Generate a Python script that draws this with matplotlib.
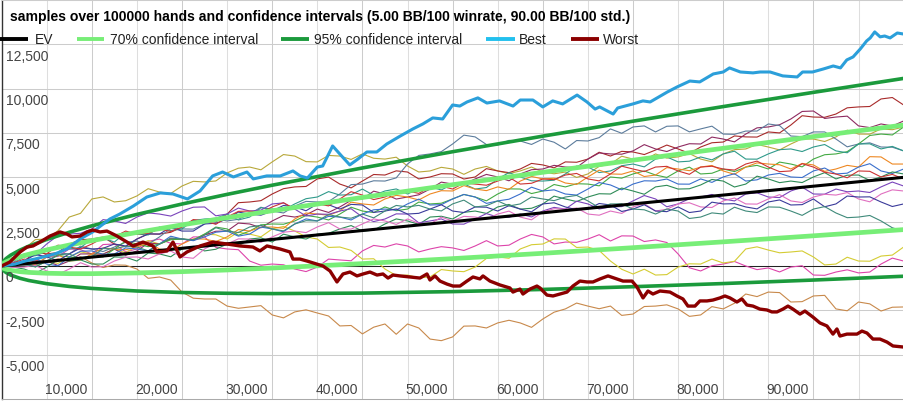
import matplotlib
matplotlib.use("Agg")
import matplotlib.pyplot as plt
from matplotlib.lines import Line2D

plt.rcParams['font.family'] = ['Liberation Sans', 'DejaVu Sans']

TITLE = "samples over 100000 hands and confidence intervals (5.00 BB/100 winrate, 90.00 BB/100 std.)"
LEGEND_LABELS = ["EV", "70% confidence interval", "95% confidence interval", "Best", "Worst"]
X_TICKS = [10000, 20000, 30000, 40000, 50000, 60000, 70000, 80000, 90000]
X_TICK_LABELS = ["10,000", "20,000", "30,000", "40,000", "50,000", "60,000", "70,000", "80,000", "90,000"]
Y_TICKS = [-5000, -2500, 0, 2500, 5000, 7500, 10000, 12500]
Y_TICK_LABELS = ["-5,000", "-2,500", "0", "2,500", "5,000", "7,500", "10,000", "12,500"]

# smooth series (EV and confidence bands)
CI_HANDS = [0, 100, 250, 500, 1000, 2000, 3000, 5000, 7500, 10000, 15000, 20000, 25000, 30000,
            40000, 50000, 60000, 70000, 80000, 90000, 100000]
EV = [0, 5, 12, 25, 50, 100, 150, 250, 375, 500, 750, 1000, 1250, 1500, 2000, 2500, 3000, 3500, 4000, 4500, 5000]
CI70_UP = [0, 98, 160, 233, 345, 516, 661, 909, 1182, 1432, 1892, 2319, 2724, 3115, 3865, 4584, 5284, 5967, 6638, 7297, 7948]
CI70_LO = [0, -88, -135, -183, -245, -316, -361, -409, -432, -432, -392, -319, -224, -115, 135, 416, 716, 1033, 1362, 1703, 2052]
CI95_UP = [0, 181, 292, 419, 609, 888, 1116, 1497, 1902, 2264, 2910, 3495, 4039, 4556, 5528, 6444, 7322, 8167, 8990, 9792, 10578]
CI95_LO = [0, -171, -267, -369, -509, -688, -816, -997, -1152, -1264, -1410, -1495, -1539, -1556, -1528, -1444, -1322, -1167, -990, -792, -578]

BEST_HANDS = [0, 1500, 2600, 3700, 4600, 5900, 7250, 8700, 10100, 12000, 13100, 14600, 16100, 17600, 19000, 20600,
              22000, 23400, 24500, 25700, 27200, 27900, 29400, 30900, 32300, 33100, 33900, 35000, 35600, 36700,
              37700, 38600, 39500, 40500, 41600, 42700, 44200, 45600, 46700, 47800, 48900, 50000, 50800, 51600,
              52800, 53800, 55200, 56700, 57500, 58900, 60000, 61100, 62200, 63800, 64900, 65800, 66300, 67800,
              68300, 70000, 71100, 71900, 73800, 74900, 76300, 77400, 78900, 80000, 80700, 81900, 83300, 84100,
              85200, 86600, 88200, 88800, 89900, 91100, 92200, 93000, 93700, 94400, 95200, 95900, 96300, 96800,
              97400, 97900, 98500, 99300, 100000]
BEST = [0, 110, 280, 395, 510, 680, 960, 1520, 1920, 2650, 2930, 3380, 3890, 4120, 4060, 3780,
        4230, 5080, 5300, 5020, 5300, 4910, 5080, 5080, 5360, 5080, 4960, 5580, 5640, 6770,
        6200, 5700, 6030, 6430, 6430, 6880, 7330, 7730, 8010, 8350, 8290, 9080, 9020, 9250,
        9480, 9190, 9310, 9020, 9360, 9360, 8970, 9310, 9140, 9640, 9250, 8850, 8970, 8570,
        8910, 9140, 9310, 9250, 9810, 10100, 10430, 10380, 10830, 10940, 11170, 10940, 10890, 10940,
        10940, 10720, 10660, 10940, 10940, 11110, 11280, 11170, 11620, 11790, 12240, 12690, 12860, 13200,
        12920, 12970, 12860, 13140, 13080]

WORST_HANDS = [0, 930, 2040, 2820, 3480, 4260, 5370, 6470, 7250, 7800, 8690, 9470, 10130, 10910, 11680, 12790,
               13900, 14570, 15680, 16780, 17230, 18330, 19000, 19780, 20550, 22000, 23440, 24990, 26430, 27870,
               28640, 29420, 30860, 31970, 32300, 33080, 33860, 34960, 35630, 36410, 37180, 37850, 38620, 39400,
               40070, 40840, 41620, 42280, 42840, 43390, 44170, 45270, 46380, 47160, 47490, 48050, 48600, 49380,
               50040, 50820, 51590, 52260, 53030, 53370, 54140, 55250, 56360, 56690, 57470, 57800, 58580, 59350,
               59690, 60460, 61130, 61900, 62680, 63340, 64120, 64900, 65560, 66340, 67230, 68220, 68890, 69890,
               70440, 71110, 71660, 72210, 72990, 74100, 74870, 75540, 76090, 76870, 77420, 78200, 78860, 79640,
               80190, 80750, 81520, 82080, 82630, 83300, 84070, 84850, 85400, 85960, 86620, 87180, 87730, 88510,
               89060, 89950, 90720, 91500, 92170, 92610, 92940, 93720, 94830, 95380, 95940, 96600, 97380, 98160,
               98820, 100000]
WORST = [0, 230, 790, 1070, 1130, 1350, 1690, 1920, 1800, 1640, 1690, 1920, 2030, 1920, 1970, 1690,
         1350, 1130, 1350, 1130, 790, 850, 1350, 510, 790, 1130, 1350, 1240, 1130, 1070,
         850, 1130, 960, 790, 390, 390, 280, 110, 0, -280, -900, -450, -340, -560,
         -450, -340, -510, -450, -680, -510, -560, -620, -680, -450, -790, -560, -850, -1020,
         -1130, -1130, -850, -620, -730, -560, -850, -1070, -1240, -1470, -1300, -1580, -1300, -1130,
         -1240, -1640, -1690, -1580, -1470, -1130, -850, -900, -900, -730, -560, -730, -850, -850,
         -1180, -1800, -1410, -1580, -1410, -1470, -1690, -1860, -2260, -2260, -1970, -1970, -1920, -1800,
         -1690, -1800, -2030, -1860, -2200, -2260, -2430, -2480, -2590, -2590, -2430, -2260, -2430, -2710,
         -2540, -2880, -3210, -3380, -3840, -3550, -3950, -3840, -3840, -3670, -3780, -4120, -4120, -4290,
         -4510, -4570]

# thin sample runs, every 1,250 hands
SAMPLE_HANDS = list(range(0, 100001, 1250))
S_BROWN = [0, 80, 60, 60, 230, 405, 280, 525, 170, -85, 60, 45, -170, -695, -620, -795, -1470, -1815, -1860, -1860,
           -2260, -2385, -2310, -2235, -2760, -2925, -2590, -2470, -2650, -2820, -3380, -3355, -3830, -3450, -3270,
           -3850, -3270, -3495, -4120, -4210, -4000, -3390, -3380, -3495, -3210, -3060, -3210, -3460, -2990, -2605,
           -2420, -2090, -2260, -2410, -2260, -2785, -2710, -2285, -2260, -2190, -2420, -2840, -2760, -2290, -2420,
           -2100, -1580, -1725, -1470, -1500, -2030, -2010, -1690, -1655, -2420, -2525, -2030, -2135, -2540, -2325,
           -2310]
S_MAGENTA = [0, 60, 280, 695, 510, 535, 960, 920, 680, 1210, 1240, 800, 960, 1390, 1520, 1280, 1240, 1640, 1640,
             1050, 960, 920, 280, 45, 110, 70, -170, -315, -60, 390, 340, 295, 850, 1160, 1070, 1250, 1130, 795, 960,
             1090, 1020, 875, 1130, 1430, 1130, 1175, 1520, 1780, 1640, 1245, 1350, 1335, 1520, 1765, 1410, 1700, 1690,
             1380, 1470, 1325, 680, -100, -280, 15, 110, 255, 0, -205, -110, -335, -60, 15, -510, -525, -340, -215,
             -390, -340, 110, 445, 280]
S_YELLOW = [0, 150, 170, 325, 280, 145, 510, 795, 680, 670, 960, 745, 1130, 1435, 1240, 1530, 1520, 1460, 1800,
            1760, 1520, 1910, 1800, 1645, 2090, 2230, 1970, 1645, 1520, 1045, 1070, 880, 390, 410, -170, -540, -510,
            -665, -620, -200, -280, -320, -60, 425, 510, 435, 960, 1200, 1240, 1530, 1520, 1045, 1070, 875, 280,
            -185, -450, -180, -510, -485, -60, 125, 110, 390, 170, 265, 960, 1080, 900, 745, 790, 850, 510, 60, 110,
            495, 280, 270, 560, 615, 1070]
S_OLIVE = [0, 280, 960, 1490, 1520, 1990, 2760, 2970, 3780, 3895, 3610, 3680, 3950, 4360, 4170, 4090, 4510, 4775,
           4740, 4795, 5250, 5515, 5580, 5425, 5870, 6285, 6200, 5885, 5870, 6235, 6200, 6010, 6320, 6075, 6030,
           6135, 5640, 5300, 5360, 5565, 5470, 5170, 5470, 5615, 5360, 5210, 5360, 5580, 5300, 5200, 5300, 4995,
           5190, 5620, 5750, 6190, 6030, 5975, 6320, 6085, 6150, 6340, 6030, 5875, 6320, 6560, 6600, 6855, 6710,
           6545, 6880, 7170, 7160, 7020, 7280, 7660, 7440, 7435, 7730, 7685, 7840]
S_RED = [0, 100, 280, 780, 680, 760, 1240, 1480, 1520, 1630, 1240, 1080, 1520, 1810, 1800, 1900, 2200, 2570, 2540,
         2485, 2930, 3570, 3610, 3685, 4060, 4360, 4460, 4485, 4910, 5015, 4620, 4405, 4790, 5160, 5130, 5365, 5300,
         4910, 5020, 5205, 5190, 4905, 5020, 5490, 5360, 5265, 5470, 5785, 5700, 5535, 5870, 5850, 6030, 6415, 6200,
         6465, 6430, 6285, 6540, 6820, 6600, 6355, 6710, 6950, 6990, 7335, 7280, 7270, 7560, 7505, 7950, 8475, 8400,
         8385, 8570, 8920, 8970, 8995, 9420, 9500, 9080]
S_MAROON = [0, 120, 110, 295, 280, 30, 280, 680, 680, 670, 960, 605, 850, 1295, 1240, 1530, 1520, 1435, 1750, 1960,
            1970, 2420, 2370, 2155, 2540, 2850, 2760, 2885, 3210, 3020, 3330, 3705, 3780, 4220, 4060, 3775, 3890,
            4015, 4340, 4730, 4620, 4615, 4910, 5165, 5020, 4805, 5190, 5430, 5470, 5675, 5580, 5555, 6030, 6375,
            6320, 6305, 6490, 6845, 6600, 6455, 6710, 6895, 6880, 7270, 7160, 7000, 7440, 7790, 7840, 7965, 8290,
            8715, 8740, 8320, 8400, 8450, 7900, 7805, 8010, 7895, 8180]
S_SLATE = [0, 100, 60, 35, 510, 745, 680, 1120, 960, 815, 1070, 1340, 1410, 1225, 1640, 2115, 2090, 2080, 2370,
           2655, 2540, 2635, 2930, 3315, 3100, 2990, 3380, 3645, 3610, 3635, 4060, 4590, 4620, 4805, 4790, 4970,
           5750, 6235, 6320, 6450, 6880, 7380, 7280, 6850, 6820, 7085, 7050, 6855, 7160, 6980, 6600, 7075, 7050,
           7240, 7730, 7485, 7840, 7900, 7560, 7880, 7900, 7565, 7730, 7885, 7440, 7425, 7610, 7610, 8010, 7920,
           7330, 7295, 7560, 7560, 7160, 6720, 6880, 6945, 6710, 6700, 6490]
S_GREEN = [0, 150, 230, -45, 280, 595, 510, 435, 560, 510, 960, 1400, 1240, 1090, 1240, 1480, 1520, 1460, 1800,
           2195, 2090, 1730, 1970, 2320, 2370, 2355, 2540, 2850, 2760, 2595, 2930, 3315, 3100, 3015, 3330, 3120,
           3210, 3605, 3500, 3540, 3780, 4035, 3890, 3675, 4060, 4350, 4340, 4085, 4230, 4595, 4460, 4640, 4620,
           4520, 5020, 4955, 5190, 5360, 5130, 4995, 5360, 5575, 5190, 5230, 5470, 5325, 5580, 5675, 5470, 5860,
           5750, 5590, 6030, 6275, 6320, 6450, 6880, 7360, 7440, 7390, 7840]
S_TEAL = [0, 150, 510, 580, 850, 1155, 960, 1040, 1520, 1585, 1350, 1875, 1800, 1750, 2200, 1995, 2090, 2570, 2650,
          2690, 2930, 2595, 2760, 3285, 3210, 3155, 3500, 3795, 3890, 4195, 4000, 4020, 4340, 3985, 4230, 4345, 4060,
          4360, 4460, 4290, 4620, 4630, 4340, 4425, 4910, 5265, 5020, 4805, 4790, 4840, 5190, 5635, 5580, 5270, 5360,
          5655, 5750, 5590, 6030, 6150, 5870, 5910, 6150, 5985, 6320, 6475, 6030, 6025, 6320, 6560, 6600, 6455, 6710,
          6850, 6490, 6385, 6880, 6890, 6600, 6745, 6490]
S_ORANGE = [0, 100, 280, 95, 510, 645, 280, 330, 680, 1020, 960, 915, 1070, 1315, 960, 850, 1240, 1530, 1520, 1380,
            1640, 2055, 1970, 2185, 2200, 2125, 2650, 2990, 2930, 2865, 3100, 3600, 3500, 3440, 3780, 3985, 3890,
            3725, 4060, 4245, 4230, 4535, 4340, 4250, 4460, 4325, 4790, 5050, 4910, 4945, 4680, 4600, 5020, 5405,
            5190, 5175, 5360, 5045, 5130, 5550, 5470, 5375, 5580, 5670, 5360, 5170, 5580, 5815, 5750, 5710, 5470,
            5785, 5700, 5335, 5470, 5675, 5580, 6165, 6150, 5750, 5750]
S_BLUE = [0, 100, 230, 420, 110, 10, 510, 830, 850, 665, 680, 1020, 960, 850, 1240, 1680, 1520, 1430, 1640, 1905,
          1970, 1685, 1800, 2195, 2090, 1930, 2370, 2655, 2540, 2800, 2760, 2595, 2930, 3170, 3210, 3155, 3500, 3770,
          3440, 3460, 3780, 4035, 3890, 3530, 3670, 3765, 4060, 4445, 4230, 4295, 4060, 4000, 4340, 4705, 4570, 4295,
          4620, 4805, 4790, 4905, 4620, 4615, 4910, 4715, 5020, 5205, 4790, 4860, 5130, 5225, 5020, 4990, 5360, 5525,
          5190, 5235, 5580, 5770, 5360, 5215, 5470]
S_DKGREEN = [0, -60, -170, -415, -60, 360, 280, 345, 110, 110, 510, 495, 280, 730, 680, 520, 960, 1105, 850, 945,
             1240, 1130, 1520, 1585, 1350, 1795, 1640, 1520, 1800, 1845, 2090, 2280, 1970, 2020, 2370, 2655, 2540,
             2350, 2760, 2805, 2650, 3025, 3100, 2965, 3330, 3470, 3210, 3255, 3500, 3940, 3780, 3635, 3890, 4075,
             4060, 4395, 4230, 4045, 4460, 4550, 4340, 4355, 4570, 4880, 4790, 4455, 4620, 5065, 4910, 4700, 4790,
             4705, 5020, 5265, 4910, 5120, 5130, 4825, 5020, 5305, 5190]
S_PURPLE = [0, 190, 680, 660, 1240, 1720, 1800, 1845, 2090, 2615, 2540, 2400, 2760, 2995, 2930, 2815, 3100, 3315,
            3330, 2830, 2930, 3265, 3100, 3150, 3500, 3555, 3210, 2820, 2930, 2915, 3100, 3230, 2760, 2505, 2650,
            2940, 2930, 2435, 2540, 2655, 2370, 2360, 2650, 2955, 2760, 2745, 2930, 2765, 3100, 3305, 3210, 3655,
            3500, 3215, 3330, 3350, 3670, 3975, 3780, 3340, 3500, 3795, 3890, 4035, 3780, 3670, 4060, 4125, 3890,
            3860, 4230, 4445, 4060, 4050, 4340, 4185, 4230, 4145, 4460, 4735, 4510]
S_PINK = [0, -80, -60, 30, -280, -475, -170, 185, -60, -40, 280, 495, 510, 395, 680, 845, 510, 435, 960, 1300, 1240,
          1530, 1520, 1330, 1640, 1905, 1970, 1885, 2200, 2445, 2090, 2080, 2370, 2655, 2540, 2345, 2650, 2410, 2370,
          2755, 2540, 2800, 2760, 2645, 2930, 3095, 2760, 2605, 3050, 3230, 3210, 3270, 2930, 2865, 3100, 2965, 3330,
          3515, 3100, 3200, 3500, 3565, 3330, 3300, 3670, 3835, 3500, 3490, 3780, 4025, 3670, 3580, 3890, 4045, 4000,
          4140, 3780, 3620, 4060, 4295, 4230]
S_NAVY = [0, 100, 280, 645, 510, 295, 680, 1020, 960, 1000, 1240, 1130, 1520, 1810, 1800, 2185, 1970, 1970, 2370,
          2410, 2650, 3040, 2930, 2865, 3100, 3415, 3330, 3115, 3500, 3455, 3210, 3475, 3440, 3020, 3100, 3215, 2930,
          2970, 3210, 3455, 3100, 3015, 3330, 3315, 3100, 3405, 3210, 3055, 3500, 3565, 3330, 3170, 3210, 3525, 3440,
          3075, 3210, 3455, 3100, 3065, 3330, 3015, 3100, 3600, 3500, 3515, 3330, 3220, 3610, 3725, 3440, 3460, 3780,
          3340, 3500, 3945, 3890, 3900, 3610, 3355, 3500]
S_TEAL2 = [0, 100, 110, -55, 280, 630, 680, 395, 510, 985, 960, 1115, 1070, 855, 1240, 1580, 1520, 1485, 1750, 2160,
           1970, 1885, 2200, 2295, 2090, 1980, 2370, 2555, 2540, 2900, 2760, 2695, 2930, 2715, 3100, 3415, 3330, 3420,
           3210, 3105, 3500, 3715, 3330, 3400, 3670, 3385, 3500, 3890, 3780, 3685, 3890, 3980, 3670, 3285, 3500, 3505,
           3210, 3170, 2930, 3215, 3100, 2680, 2760, 2995, 2930, 3315, 3100, 3015, 3330, 3315, 3100, 2855, 3210, 3350,
           2990, 2725, 2760, 2850, 2540, 2155, 1970]
S_RED2 = [0, 150, 390, 285, 680, 1175, 1070, 955, 1240, 1590, 1640, 1970, 1800, 1845, 2090, 1945, 2200, 2620, 2540,
          2350, 2760, 3080, 3100, 3015, 3330, 3570, 3210, 3455, 3500, 3390, 3780, 4190, 4000, 3745, 3890, 4210, 4230,
          4095, 4460, 4500, 4340, 4680, 4620, 4555, 4790, 5005, 4620, 4665, 4910, 4870, 5130, 5220, 4910, 4800, 5190,
          5630, 5470, 5325, 5580, 5620, 5360, 5170, 5580, 5625, 5470, 5410, 5750, 5915, 5580, 5320, 5360, 5770, 5580,
          5285, 5190, 4975, 5360, 5340, 5020, 5165, 4910]

SAMPLES = [
    (S_BROWN, '#c8894b'), (S_MAGENTA, '#dd44aa'), (S_YELLOW, '#d4cc33'), (S_OLIVE, '#b8a83a'),
    (S_RED, '#a82a2a'), (S_MAROON, '#8e2a60'), (S_SLATE, '#5c7c9c'), (S_GREEN, '#44aa44'),
    (S_TEAL, '#2f9a8a'), (S_ORANGE, '#ee8822'), (S_BLUE, '#3a6fcc'), (S_DKGREEN, '#2e8b57'),
    (S_PURPLE, '#7a44bb'), (S_PINK, '#e070c0'), (S_NAVY, '#3a3a9a'), (S_TEAL2, '#3f8a7a'),
    (S_RED2, '#cc3333'),
]

W, H = 904, 402
fig = plt.figure(figsize=(W / 100, H / 100), dpi=100)
L, R, T, B = 1.6, 903.6, 1.0, 400.0
ax = fig.add_axes([L / W, (H - B) / H, (R - L) / W, (B - T) / H])
ax.set_xlim(0, 100000)
ax.set_ylim(-7500, 15000)

# grid
for xv in range(5000, 100001, 5000):
    ax.axvline(xv, color='#cccccc' if xv % 10000 == 0 else '#dedede', lw=0.75, zorder=0)
for yv in range(-5000, 15001, 2500):
    ax.axhline(yv, color='#cccccc', lw=0.75, zorder=0)
ax.axhline(0, color='#222222', lw=0.75, zorder=1)

for vals, col in SAMPLES:
    n = min(len(vals), len(SAMPLE_HANDS))
    ax.plot(SAMPLE_HANDS[:n], vals[:n], color=col, lw=0.8, zorder=2)

ax.plot(CI_HANDS, CI95_UP, color='#1b9a3c', lw=2.6, zorder=3, solid_capstyle='butt')
ax.plot(CI_HANDS, CI95_LO, color='#1b9a3c', lw=2.6, zorder=3, solid_capstyle='butt')
ax.plot(CI_HANDS, CI70_UP, color='#77ee77', lw=3.4, zorder=3, solid_capstyle='butt')
ax.plot(CI_HANDS, CI70_LO, color='#77ee77', lw=3.4, zorder=3, solid_capstyle='butt')
ax.plot(CI_HANDS, EV, color='#000000', lw=2.2, zorder=4, solid_capstyle='butt')
ax.plot(BEST_HANDS, BEST, color='#2b9fda', lw=2.2, zorder=5)
ax.plot(WORST_HANDS, WORST, color='#8b0000', lw=2.4, zorder=5)

ax.set_xticks([])
ax.set_yticks([])
ax.spines['right'].set_visible(False)
ax.spines['left'].set_color('#333333')
ax.spines['left'].set_linewidth(1.0)
ax.spines['top'].set_color('#cccccc')
ax.spines['top'].set_linewidth(0.75)
ax.spines['bottom'].set_color('#aaaaaa')
ax.spines['bottom'].set_linewidth(0.75)

# tick labels drawn inside the plot
for yv, lab in zip(Y_TICKS, Y_TICK_LABELS):
    ax.annotate(lab, xy=(0, yv), xytext=(4, -11.5), textcoords='offset pixels',
                ha='left', va='center', fontsize=10, color='#444444', zorder=6)
for xv, lab in zip(X_TICKS, X_TICK_LABELS):
    ax.annotate(lab, xy=(xv, -7500), xytext=(-4.5, 10), textcoords='offset pixels',
                ha='right', va='center', fontsize=10, color='#444444', zorder=6)

# title
fig.text(10 / W, 1 - 17 / H, TITLE, ha='left', va='center', fontsize=10.1, fontweight='bold', color='#000000')

# legend
leg_items = [
    (0, 28, 35, '#000000'), (77, 104, 110, '#77ee77'), (281, 309, 314, '#1b9a3c'),
    (486, 515, 519, '#22c0ee'), (571, 599, 603, '#8b0000'),
]
ly = 40
for (x0, x1, tx, col), lab in zip(leg_items, LEGEND_LABELS):
    fig.add_artist(Line2D([x0 / W, x1 / W], [1 - ly / H, 1 - ly / H], color=col, lw=2.8,
                          transform=fig.transFigure, solid_capstyle='butt'))
    fig.text(tx / W, 1 - ly / H, lab, ha='left', va='center', fontsize=10, color='#222222')

fig.savefig('out.png', dpi=100)
